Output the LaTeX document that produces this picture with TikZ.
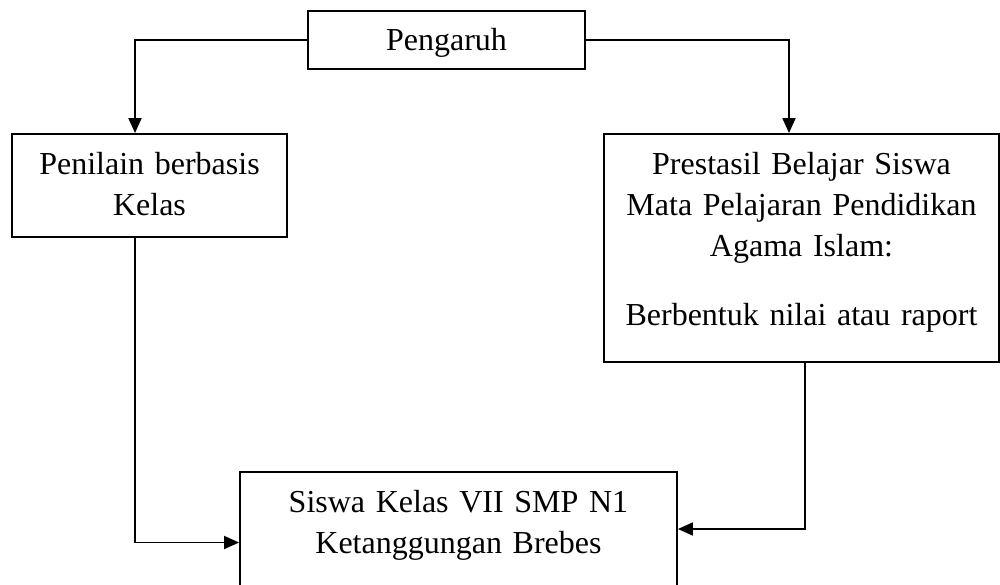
\documentclass[tikz,border=0pt]{standalone}
\usepackage{fontspec}
\setmainfont{Liberation Serif}
\usetikzlibrary{arrows.meta,positioning}

\begin{document}
\begin{tikzpicture}[x=1pt,y=-1pt,->,>={Triangle[length=15pt,width=13pt]},line width=1.9pt,
    main/.style={draw,inner sep=0pt,align=center,font=\fontsize{32}{41}\selectfont}]
    \useasboundingbox (0,0) rectangle (1000,585);
    \node[main,text width=277pt,text height=40pt,text depth=18pt] (peng) at (446.5,40) {Pengaruh};
    \node[main,text width=275pt,text height=41pt,text depth=62pt] (pbk) at (149.5,185.5) {Penilain berbasis\\Kelas};
    \node[main,text width=395pt,text height=41pt,text depth=187pt] (pbs) at (801.5,248)
      {Prestasil Belajar Siswa\\Mata Pelajaran Pendidikan\\Agama Islam:\\[28pt]Berbentuk nilai atau raport};
    \node[main,text width=437pt,text height=40pt,text depth=101pt] (siswa) at (458.5,542.5)
      {Siswa Kelas VII SMP N1\\Ketanggungan Brebes};
    \draw (peng.west) -| ([xshift=-14.5pt]pbk.north);
    \draw (peng.east) -| ([xshift=-12.5pt]pbs.north);
    \draw ([xshift=-14.5pt]pbk.south) |- (siswa.west);
    \draw ([xshift=3.5pt]pbs.south) |- ([yshift=13.5pt]siswa.east);
\end{tikzpicture}
\end{document}
